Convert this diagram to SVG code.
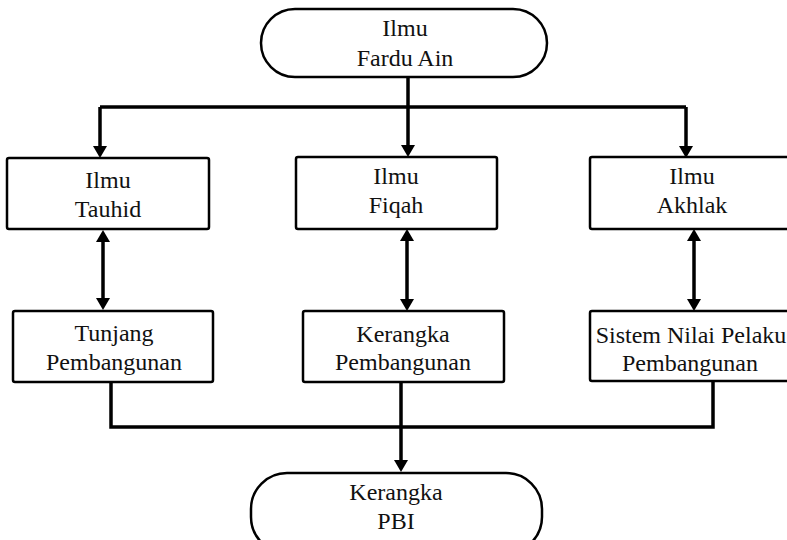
<svg xmlns="http://www.w3.org/2000/svg" width="787" height="540" viewBox="0 0 787 540">
<style>
.box{fill:#fff;stroke:#000;stroke-width:2.5}
.t{font-size:24px;fill:#111;text-anchor:middle}
.c{fill:none;stroke:#000;stroke-width:3.5}
</style>
<defs>
<marker id="ah" markerUnits="userSpaceOnUse" markerWidth="14" markerHeight="14" refX="8" refY="7" orient="auto-start-reverse" viewBox="0 0 12 14">
<path d="M0,0 L12,7 L0,14 z" fill="#000"/>
</marker>
</defs>
<rect width="787" height="540" fill="#fff"/>
<g id="connectors">
<path class="c" d="M408,77 V107"/>
<path class="c" d="M100,107 H686"/>
<path class="c" d="M100,107 V154" marker-end="url(#ah)"/>
<path class="c" d="M408,107 V153" marker-end="url(#ah)"/>
<path class="c" d="M686,107 V154" marker-end="url(#ah)"/>
<path class="c" d="M103,234 V306" marker-start="url(#ah)" marker-end="url(#ah)"/>
<path class="c" d="M407,233 V307" marker-start="url(#ah)" marker-end="url(#ah)"/>
<path class="c" d="M694,233 V307" marker-start="url(#ah)" marker-end="url(#ah)"/>
<path class="c" d="M111,382 V427 H713 V381"/>
<path class="c" d="M401,382 V468" marker-end="url(#ah)"/>
</g>
<g font-family="'Liberation Serif', 'Times New Roman', 'DejaVu Serif', serif">
<g id="fardu-ain">
<rect class="box" x="261" y="9" width="286" height="68" rx="34"/>
<text class="t" x="405" y="36">Ilmu</text>
<text class="t" x="405" y="66">Fardu Ain</text>
</g>
<g id="tauhid">
<rect class="box" x="7" y="158" width="202" height="71" rx="2"/>
<text class="t" x="108" y="188">Ilmu</text>
<text class="t" x="108" y="217">Tauhid</text>
</g>
<g id="fiqah">
<rect class="box" x="296" y="157" width="201" height="72" rx="2"/>
<text class="t" x="396" y="184">Ilmu</text>
<text class="t" x="396" y="213">Fiqah</text>
</g>
<g id="akhlak">
<rect class="box" x="590" y="157" width="204" height="72" rx="2"/>
<text class="t" x="692" y="184">Ilmu</text>
<text class="t" x="692" y="213">Akhlak</text>
</g>
<g id="tunjang">
<rect class="box" x="13" y="311" width="200" height="71" rx="2"/>
<text class="t" x="114" y="341">Tunjang</text>
<text class="t" x="114" y="370">Pembangunan</text>
</g>
<g id="kerangka">
<rect class="box" x="303" y="311" width="201" height="71" rx="2"/>
<text class="t" x="403" y="342">Kerangka</text>
<text class="t" x="403" y="370">Pembangunan</text>
</g>
<g id="sistem">
<rect class="box" x="590" y="311" width="204" height="70" rx="2"/>
<text class="t" x="691" y="343">Sistem Nilai Pelaku</text>
<text class="t" x="690" y="371">Pembangunan</text>
</g>
<g id="kerangka-pbi">
<rect class="box" x="251" y="473" width="291" height="80" rx="36"/>
<text class="t" x="396" y="500">Kerangka</text>
<text class="t" x="396" y="529">PBI</text>
</g>
</g>
</svg>
